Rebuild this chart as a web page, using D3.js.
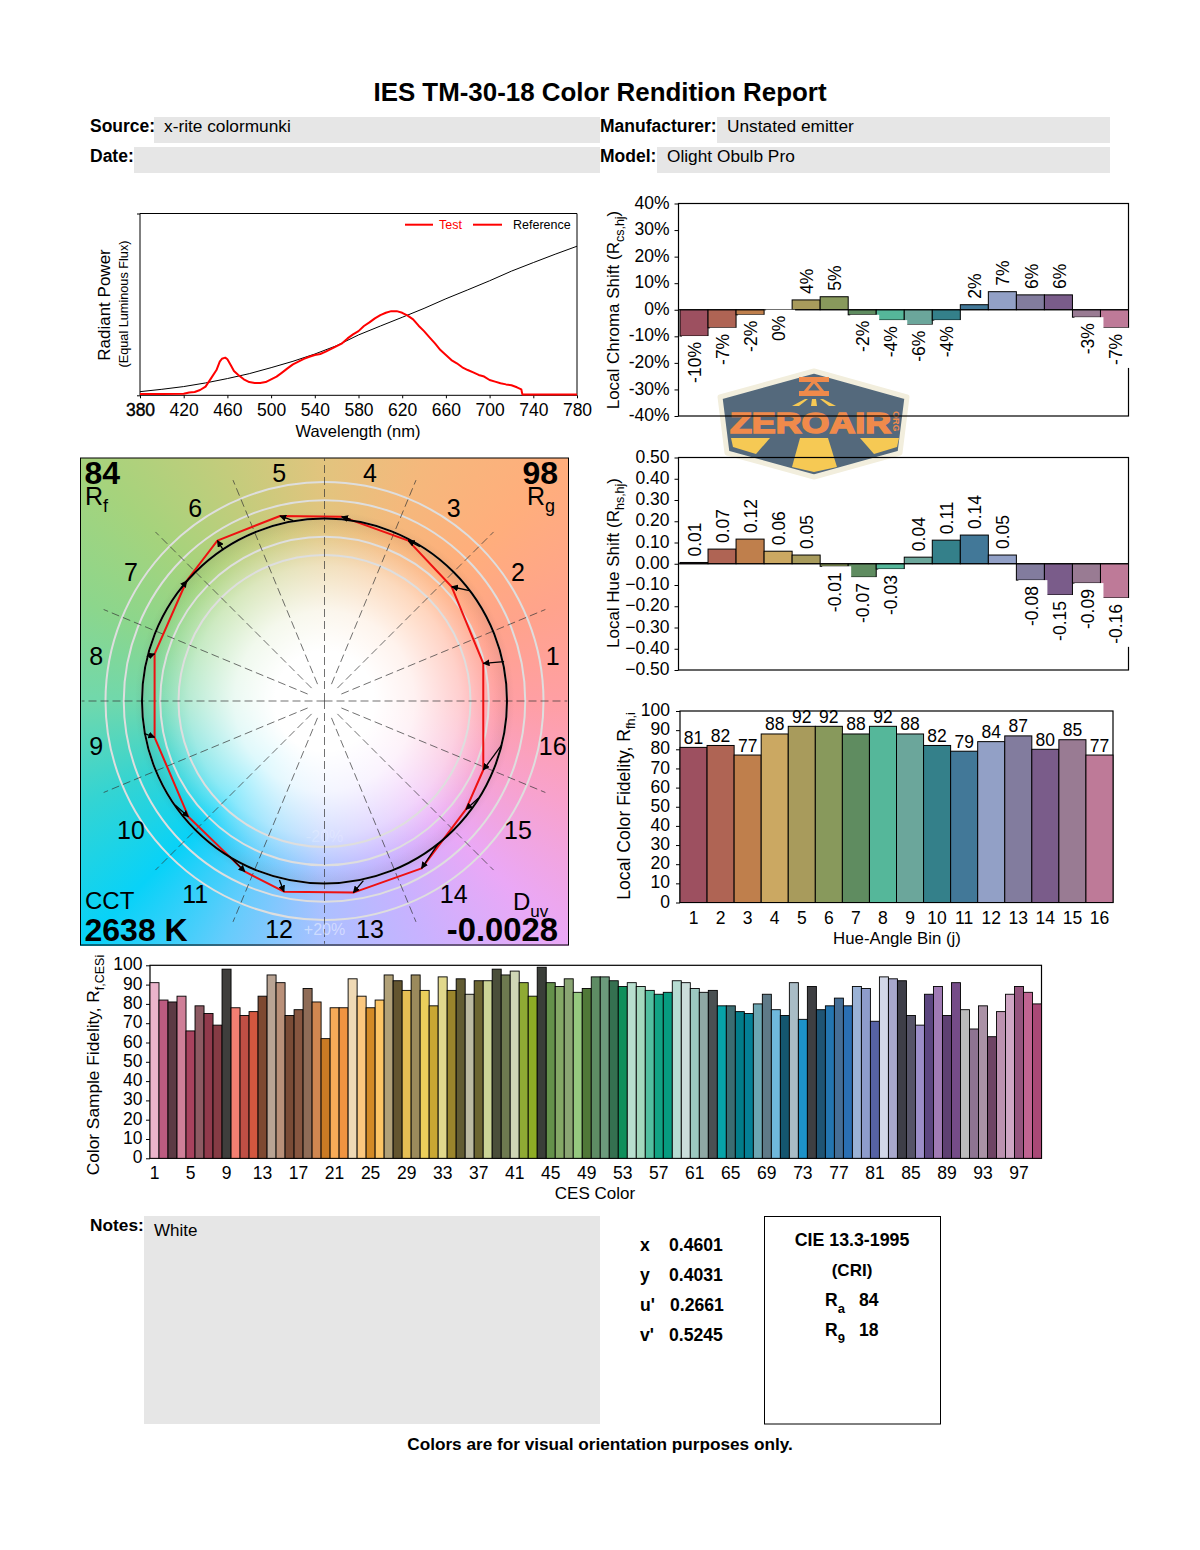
<!DOCTYPE html>
<html>
<head>
<meta charset="utf-8">
<script src="https://cdn.jsdelivr.net/npm/d3@7"></script>
<style>
  body { margin: 0; background: #fff; }
  #page { position: relative; width: 1200px; height: 1550px; overflow: hidden; }
  #wheel { position: absolute; left: 80px; top: 458px; width: 489px; height: 488px; }
  svg { position: absolute; left: 0; top: 0; font-family: "Liberation Sans", Arial, sans-serif; }
</style>
</head>
<body>
<div id="page"><div id="wheel"></div></div>
<script>
// Data

const binLabels = d3.range(1, 17)
const binColors = ['#9D5060', '#AF6454', '#BF7F4C', '#CBA862', '#A89B5C', '#88995C', '#5F8C60', '#55B79A',
  '#6BA69B', '#34808A', '#427898', '#92A0C6', '#827C9E', '#7A5C8A', '#997B93', '#BE7A98']

const chromaShift = [-9.9, -6.8, -1.9, 0, 3.7, 4.9, -1.9, -3.9, -5.6, -3.9, 1.9, 6.8, 5.6, 5.6, -2.8, -6.8]
const chromaLabels = ['-10%', '-7%', '-2%', '0%', '4%', '5%', '-2%', '-4%', '-6%', '-4%', '2%', '7%', '6%', '6%', '-3%', '-7%']
const chromaTicks = [-40, -30, -20, -10, 0, 10, 20, 30, 40]

const hueShift = [0.006, 0.069, 0.116, 0.059, 0.041, -0.012, -0.063, -0.025, 0.031, 0.111, 0.135, 0.041, -0.077, -0.147, -0.091, -0.161]
const hueLabels = ['0.01', '0.07', '0.12', '0.06', '0.05', '-0.01', '-0.07', '-0.03', '0.04', '0.11', '0.14', '0.05', '-0.08', '-0.15', '-0.09', '-0.16']
const hueTicks = [-0.5, -0.4, -0.3, -0.2, -0.1, 0, 0.1, 0.2, 0.3, 0.4, 0.5]

const binFidelity = [81, 82, 77, 88, 92, 92, 88, 92, 88, 82, 79, 84, 87, 80, 85, 77]

const cesFidelity = [91, 82, 81, 84, 66, 79, 75, 69, 98, 78, 74, 76, 84, 95, 91, 74, 77, 88, 81, 62,
  78, 78, 93, 84, 78, 82, 95, 92, 87, 95, 87, 79, 94, 87, 93, 85, 92, 92, 98, 95,
  97, 91, 84, 99, 91, 89, 93, 86, 88, 94, 94, 92, 89, 91, 89, 87, 85, 86, 92, 91,
  88, 86, 87, 79, 79, 76, 75, 80, 85, 77, 74, 91, 72, 89, 77, 79, 83, 79, 89, 88,
  71, 94, 93, 92, 74, 69, 85, 89, 74, 91, 77, 67, 79, 63, 76, 85, 89, 86, 80]
const cesColors = ['#EBB4CB', '#BC5B80', '#5C3A44', '#CF7F98', '#A8425E', '#8E5A63', '#913A4C', '#863B44', '#3F3E3C', '#F47F72',
  '#BF4F45', '#D3573F', '#7E4931', '#B9A494', '#B99079', '#7A4B36', '#875640', '#8F6C57', '#D08750', '#C97A24',
  '#F7AB58', '#F09441', '#EFD9B5', '#FBC77E', '#D38A25', '#FCC565', '#B1A178', '#63552F', '#E6BF54', '#9B8A5C',
  '#EBCF5B', '#C9A733', '#E1D88C', '#9A852C', '#625C33', '#BCBAA2', '#6C6531', '#CCD596', '#4A4E3A', '#6E7A50',
  '#CFD6B5', '#8FAA34', '#8EAD25', '#3A3E38', '#64914A', '#84A866', '#8AA573', '#95C97F', '#507838', '#5E8C64',
  '#6C9A7C', '#357050', '#0F8F5B', '#B8DFCF', '#A4D8BE', '#52BFA0', '#12A384', '#079C80', '#B6DCD2', '#CBDEDB',
  '#9CC8C0', '#8FA8A4', '#4A5052', '#07A3A8', '#3B6D72', '#027D8A', '#048096', '#6CA6B2', '#5F7A88', '#6FB8DC',
  '#14566F', '#A9BCC6', '#1D92C8', '#3E3F42', '#1F5474', '#2375B0', '#456E96', '#2A6FB3', '#9AB2D6', '#8E9CCB',
  '#5662A4', '#D2D7E8', '#A8A8CC', '#3E3E48', '#565468', '#9C8EC8', '#5C4680', '#A07AB4', '#5E4072', '#754C88',
  '#BBBBBB', '#8E7492', '#AA92A6', '#6E4464', '#BC92B0', '#CFA6C4', '#94547E', '#C06492', '#A94876']

const testWave = [380, 400, 420, 425, 430, 435, 440, 445, 450, 453, 455, 458, 460, 463, 466, 470, 475, 480, 485, 490,
  495, 500, 505, 510, 515, 520, 525, 530, 535, 540, 545, 550, 555, 560, 565, 570, 575, 580, 585, 590,
  595, 600, 605, 610, 615, 620, 625, 630, 635, 640, 645, 650, 655, 660, 665, 670, 675, 680, 685, 690,
  695, 700, 705, 710, 715, 720, 725, 729, 730, 780]
const testPower = [0.7, 0.7, 0.9, 1.5, 1.8, 2.9, 4.8, 9.3, 13.9, 18.5, 20.1, 20.7, 19.8, 16.7, 13.4, 11.2, 8.8, 7.3, 6.8, 6.8,
  7.3, 8.8, 10.3, 12.5, 14.8, 17, 18.5, 20, 21.2, 22.2, 22.7, 24, 25.5, 27.1, 28.6, 31.3, 33.5, 35.3, 38.1, 40.1,
  42.3, 44.1, 45.4, 46.3, 46.3, 45.4, 43.8, 41.8, 38.3, 35.3, 31.9, 28.6, 24.9, 22.2, 19.4, 17.6, 15.4, 13.9, 12.6, 11.2,
  10.3, 8.4, 7.5, 6.6, 6, 5.5, 4.4, 3.3, 0.5, 0.5]
const refWave = [380, 400, 420, 440, 460, 480, 500, 520, 540, 560, 580, 600, 620, 640, 660, 680, 700, 720, 740, 760, 780]
const refPower = [2, 3.3, 4.8, 6.8, 9.2, 11.9, 15.2, 18.7, 22.7, 27.3, 33.2, 38.1, 42.9, 47.8, 53.1, 58, 63, 68.3, 73, 77.6, 82]
const waveTicks = d3.range(380, 781, 40)

// color vector graphic, a' and b' normalized to the reference circle
const testA = [0.870, 0.697, 0.459, 0.094, -0.244, -0.587, -0.755, -0.931, -0.931, -0.746, -0.436, -0.222, 0.158, 0.532, 0.775, 0.870]
const testB = [0.206, 0.626, 0.879, 1.010, 1.014, 0.879, 0.659, 0.258, -0.199, -0.634, -0.935, -1.045, -1.050, -0.917, -0.594, -0.378]
const refA = [0.984, 0.794, 0.523, 0.143, -0.171, -0.554, -0.792, -0.974, -0.989, -0.819, -0.518, -0.247, 0.213, 0.624, 0.843, 0.971]
const refB = [0.216, 0.605, 0.846, 0.995, 0.988, 0.827, 0.608, 0.243, -0.177, -0.570, -0.853, -0.981, -0.984, -0.780, -0.533, -0.241]
const ringLevels = [0.8, 0.9, 1, 1.1, 1.2]
const wheelColors = ['#E2C47E', '#F5B87C', '#FFAE7C', '#FFA38C', '#FF9FA4', '#F8A2CC', '#EAA8F6', '#C8B2FF',
  '#ACC0FF', '#66CCFC', '#08D2F8', '#34D4D2', '#70D8AC', '#8CD68C', '#A6D37C', '#C4CC7C', '#E2C47E']

const FONT = 17.5
const svg = d3.select('#page').append('svg')
  .attr('width', 1200)
  .attr('height', 1550)

// text with subscripts, parts are [string, isSub]
function richText (g, x, y, parts, size, subSize, opts = {}) {
  const t = g.append('text')
    .attr('font-size', size)
    .attr('text-anchor', opts.anchor || 'start')
    .attr('font-weight', opts.weight || 'normal')
    .attr('fill', opts.fill || '#000')
  if (opts.rotate) {
    t.attr('transform', `translate(${x},${y}) rotate(${opts.rotate})`)
  } else {
    t.attr('x', x).attr('y', y)
  }
  const drop = opts.drop || size * 0.28
  let shifted = false
  parts.forEach(([s, isSub]) => {
    const span = t.append('tspan').text(s).attr('font-size', isSub ? subSize : size)
    if (isSub && !shifted) span.attr('dy', drop)
    if (!isSub && shifted) span.attr('dy', -drop)
    shifted = isSub
  })
  return t
}

function frame (g, x0, x1, y0, y1) {
  g.append('rect')
    .attr('x', x0).attr('y', y0)
    .attr('width', x1 - x0).attr('height', y1 - y0)
    .attr('fill', 'none')
    .attr('stroke', '#000')
    .attr('stroke-width', 1.2)
}

function styleAxis (sel, size) {
  sel.select('.domain').remove()
  sel.selectAll('.tick line').attr('stroke', '#000')
  sel.selectAll('.tick text').attr('font-size', size).attr('font-family', 'inherit').attr('fill', '#000')
}

// left axis labels sit a touch above their ticks
function nudgeLabels (sel) {
  sel.selectAll('.tick text').attr('dy', '.26em')
}

// logo goes first, the plot lines run over it
function drawLogo () {
  const g = svg.append('g')
  g.append('polygon')
    .attr('points', '814,371 907,397 900,453 814,477 727,453 720,397')
    .attr('fill', '#54697C')
    .attr('stroke', '#F2EEDD')
    .attr('stroke-width', 5)
    .attr('stroke-linejoin', 'round')
  const yellow = ['731,438 770,438 756,454 733,447', '800,438 828,438 837,467 814,472 792,467', '860,438 899,438 897,447 874,454',
    '792,406 805,399 808,399 799,406', '812,399 816,399 817,406 811,406', '836,406 823,399 820,399 829,406']
  yellow.forEach(p => g.append('polygon').attr('points', p).attr('fill', '#F6C954'))
  const orange = ['799,377 829,377 829,382 799,382', '799,391 829,391 829,396 799,396']
  orange.forEach(p => g.append('polygon').attr('points', p).attr('fill', '#F08A4B'))
  g.append('polygon')
    .attr('points', '814,381 823,392 805,392')
    .attr('fill', 'none')
    .attr('stroke', '#F08A4B')
    .attr('stroke-width', 3)
  g.append('text')
    .attr('x', 730).attr('y', 433)
    .attr('font-size', 30).attr('font-weight', 'bold')
    .attr('textLength', 161).attr('lengthAdjust', 'spacingAndGlyphs')
    .attr('fill', '#F08A4B').attr('stroke', '#F08A4B').attr('stroke-width', 1.6)
    .text('ZEROAIR')
  g.append('text')
    .attr('transform', 'translate(893,411) rotate(90)')
    .attr('font-size', 9).attr('font-weight', 'bold')
    .attr('fill', '#F08A4B')
    .text('ORG')
}

function drawHeader () {
  const g = svg.append('g')
  g.append('text')
    .attr('x', 600).attr('y', 101)
    .attr('text-anchor', 'middle')
    .attr('font-size', 25.9).attr('font-weight', 'bold')
    .text('IES TM-30-18 Color Rendition Report')
  const rows = [
    ['Source:', 90, 154, 600, 117, 'x-rite colormunki'],
    ['Date:', 90, 134, 600, 147, ''],
    ['Manufacturer:', 600, 717, 1110, 117, 'Unstated emitter'],
    ['Model:', 600, 657, 1110, 147, 'Olight Obulb Pro']
  ]
  rows.forEach(([label, lx, bx0, bx1, by, value]) => {
    g.append('rect').attr('x', bx0).attr('y', by).attr('width', bx1 - bx0).attr('height', 26).attr('fill', '#E6E6E6')
    g.append('text').attr('x', lx).attr('y', by + 15).attr('font-size', 17.5).attr('font-weight', 'bold').text(label)
    g.append('text').attr('x', bx0 + 10).attr('y', by + 15).attr('font-size', 17.3).text(value)
  })
}

function drawSpectrum () {
  const g = svg.append('g')
  const x = d3.scaleLinear().domain([380, 780]).range([140, 577])
  const y = d3.scaleLinear().domain([0, 100]).range([395.3, 213.5])
  g.append('path')
    .attr('d', `M${x(780)},${y(100)}H${x(380)}V${y(0)}H${x(780)}V${y(100)}`)
    .attr('fill', 'none').attr('stroke', '#000').attr('stroke-width', 1)
  g.append('g').attr('transform', `translate(0,${y(0)})`)
    .call(d3.axisBottom(x).tickValues(waveTicks).tickFormat(d3.format('d')).tickSize(3).tickPadding(5))
    .call(styleAxis, FONT)
    .call(sel => sel.select('.tick text').attr('stroke', '#000').attr('stroke-width', 0.4))
  g.append('g').attr('transform', `translate(${x(380)},0)`)
    .call(d3.axisLeft(y).tickValues([0, 100]).tickFormat('').tickSize(3))
    .call(styleAxis, FONT)

  const line = d3.line().x(d => x(d[0])).y(d => y(d[1]))
  g.append('path')
    .datum(refWave.map((w, i) => [w, refPower[i]]))
    .attr('fill', 'none').attr('stroke', '#000').attr('stroke-width', 1)
    .attr('d', line)
  g.append('path')
    .datum(testWave.map((w, i) => [w, testPower[i]]))
    .attr('fill', 'none').attr('stroke', '#F00').attr('stroke-width', 2)
    .attr('stroke-linejoin', 'round')
    .attr('d', line)

  // legend, both keys are red in the original
  const legend = [[405, 433, 439, 'Test', '#F00'], [473, 502, 513, 'Reference', '#000']]
  legend.forEach(([a, b, tx, label, color]) => {
    g.append('line').attr('x1', a).attr('x2', b).attr('y1', 224.7).attr('y2', 224.7).attr('stroke', '#F00').attr('stroke-width', 2)
    g.append('text').attr('x', tx).attr('y', 229).attr('font-size', 12.5).attr('fill', color).text(label)
  })

  g.append('text')
    .attr('x', 358).attr('y', 437)
    .attr('text-anchor', 'middle').attr('font-size', 16.5)
    .text('Wavelength (nm)')
  g.append('text')
    .attr('transform', 'translate(110,305) rotate(-90)')
    .attr('text-anchor', 'middle').attr('font-size', 17)
    .text('Radiant Power')
  g.append('text')
    .attr('transform', 'translate(128,304) rotate(-90)')
    .attr('text-anchor', 'middle').attr('font-size', 12.7)
    .text('(Equal Luminous Flux)')
}

function drawWheel () {
  // background colours, white toward the middle
  const stops = wheelColors.map((c, i) => `${c} ${i * 22.5}deg`).join(',')
  const cx = 244.5
  const cy = 243
  d3.select('#wheel').style('background',
    `radial-gradient(circle at ${cx}px ${cy}px, #fff 0, #fff 50px, rgba(255,255,255,.86) 90px, rgba(255,255,255,.5) 135px, ` +
    `rgba(255,255,255,.04) 170px, rgba(70,60,60,.07) 181px, rgba(70,60,60,0) 190px), conic-gradient(${stops})`)

  const g = svg.append('g')
  const x = d3.scaleLinear().domain([-1.337, 1.337]).range([80.5, 568.5])
  const y = d3.scaleLinear().domain([-1.337, 1.337]).range([945, 457])
  const unit = x(1) - x(0)

  g.append('rect')
    .attr('x', 80.5).attr('y', 458)
    .attr('width', 488).attr('height', 487)
    .attr('fill', 'none').attr('stroke', '#000').attr('stroke-width', 1)

  g.selectAll('.ring').data(ringLevels).join('circle')
    .attr('class', 'ring')
    .attr('cx', x(0)).attr('cy', y(0))
    .attr('r', d => d * unit)
    .attr('fill', 'none').attr('stroke', '#DEDEDE').attr('stroke-width', 2)

  // bin edges
  d3.range(16).forEach(i => {
    const a = i * Math.PI / 8
    const axis = i % 4 === 0
    const r0 = axis ? 0 : 0.1
    const r1 = axis ? 1.33 : 1.31
    g.append('line')
      .attr('x1', x(r0 * Math.cos(a))).attr('y1', y(r0 * Math.sin(a)))
      .attr('x2', x(r1 * Math.cos(a))).attr('y2', y(r1 * Math.sin(a)))
      .attr('stroke', '#333').attr('stroke-width', 0.7)
      .attr('stroke-dasharray', '8 4')
  })

  binLabels.forEach(b => {
    const a = (b - 0.5) * Math.PI / 8
    g.append('text')
      .attr('x', x(1.275 * Math.cos(a))).attr('y', y(1.275 * Math.sin(a)))
      .attr('dy', '.36em').attr('text-anchor', 'middle')
      .attr('font-size', 25)
      .text(b)
  })

  g.append('text').attr('x', x(0)).attr('y', 935).attr('text-anchor', 'middle')
    .attr('font-size', 16).attr('fill', '#fff').attr('fill-opacity', 0.45).text('+20%')
  g.append('text').attr('x', x(0)).attr('y', 842).attr('text-anchor', 'middle')
    .attr('font-size', 16).attr('fill', '#fff').attr('fill-opacity', 0.2).text('-20%')

  const polygon = d3.line().x(d => x(d[0])).y(d => y(d[1])).curve(d3.curveLinearClosed)
  g.append('path')
    .datum(testA.map((a, i) => [a, testB[i]]))
    .attr('d', polygon)
    .attr('fill', 'none').attr('stroke', '#EE1111').attr('stroke-width', 2)
    .attr('stroke-linejoin', 'round')
  g.append('circle')
    .attr('cx', x(0)).attr('cy', y(0)).attr('r', unit)
    .attr('fill', 'none').attr('stroke', '#000').attr('stroke-width', 2)

  svg.append('defs').append('marker')
    .attr('id', 'head')
    .attr('viewBox', '0 0 10 10')
    .attr('refX', 9).attr('refY', 5)
    .attr('markerWidth', 7).attr('markerHeight', 7)
    .attr('markerUnits', 'userSpaceOnUse')
    .attr('orient', 'auto')
    .append('path').attr('d', 'M0,0L10,5L0,10Z').attr('fill', '#000')

  g.selectAll('.arrow').data(binLabels).join('line')
    .attr('class', 'arrow')
    .attr('x1', (d, i) => x(refA[i])).attr('y1', (d, i) => y(refB[i]))
    .attr('x2', (d, i) => x(testA[i])).attr('y2', (d, i) => y(testB[i]))
    .attr('stroke', '#000').attr('stroke-width', 1.3)
    .attr('marker-end', 'url(#head)')

  // corner values
  g.append('text').attr('x', 84.5).attr('y', 484).attr('font-size', 32).attr('font-weight', 'bold').text('84')
  richText(g, 85, 505, [['R', false], ['f', true]], 25, 18)
  g.append('text').attr('x', 558).attr('y', 484).attr('text-anchor', 'end').attr('font-size', 32).attr('font-weight', 'bold').text('98')
  richText(g, 527, 505, [['R', false], ['g', true]], 25, 18)
  g.append('text').attr('x', 85).attr('y', 909).attr('font-size', 24).text('CCT')
  g.append('text').attr('x', 84.5).attr('y', 941).attr('font-size', 32).attr('font-weight', 'bold').text('2638 K')
  richText(g, 513, 910, [['D', false], ['uv', true]], 24, 17)
  g.append('text').attr('x', 558).attr('y', 941).attr('text-anchor', 'end').attr('font-size', 32.8).attr('font-weight', 'bold').text('-0.0028')
}

// the two shift charts only differ in scale and labels
function drawShift (values, labels, ticks, fmt, domain, y0, y1, title, titleY) {
  const g = svg.append('g')
  const x = d3.scaleBand().domain(binLabels).range([680, 1128.5])
  const y = d3.scaleLinear().domain(domain).range([y1, y0])

  frame(g, 678.5, 1128.5, y0, y1)
  g.append('g').attr('transform', 'translate(678.5,0)')
    .call(d3.axisLeft(y).tickValues(ticks).tickFormat(fmt).tickSize(4).tickPadding(5))
    .call(styleAxis, FONT)
    .call(nudgeLabels)

  g.selectAll('.bar').data(values).join('rect')
    .attr('class', 'bar')
    .attr('x', (d, i) => x(binLabels[i]))
    .attr('y', d => y(Math.max(d, 0)))
    .attr('width', x.bandwidth())
    .attr('height', d => Math.abs(y(d) - y(0)))
    .attr('fill', (d, i) => binColors[i])
    .attr('stroke', '#000').attr('stroke-width', 1)
    .attr('opacity', d => d === 0 ? 0 : 1)
  g.append('line').attr('x1', 678.5).attr('x2', 1128.5).attr('y1', y(0)).attr('y2', y(0)).attr('stroke', '#000')

  const tags = g.selectAll('.tag').data(values).join('g')
    .attr('class', 'tag')
    .attr('transform', (d, i) => `translate(${x(binLabels[i]) + x.bandwidth() / 2 + 1},${d > 0 ? y(d) - 6 : y(d) + 6})`)
  // white patch behind the label, it breaks the frame on the last bin
  const patches = tags.filter(d => d <= 0).append('rect')
    .attr('x', -13).attr('y', -6).attr('width', 29)
    .attr('fill', '#fff')
  tags.append('text')
    .attr('transform', 'rotate(-90)')
    .attr('dy', '.35em')
    .attr('text-anchor', d => d > 0 ? 'start' : 'end')
    .attr('font-size', FONT)
    .text((d, i) => labels[i])
  patches.attr('height', function () {
    return this.parentNode.querySelector('text').getBBox().width + 9
  })

  richText(g, 619, titleY, title, 17, 12.5, { anchor: 'middle', rotate: -90 })
}

function drawBinFidelity () {
  const g = svg.append('g')
  const x = d3.scaleBand().domain(binLabels).range([680, 1113])
  const y = d3.scaleLinear().domain([0, 100]).range([902.5, 711])

  frame(g, 680, 1113, 711, 902.5)
  g.append('g').attr('transform', 'translate(680,0)')
    .call(d3.axisLeft(y).tickValues(d3.range(0, 101, 10)).tickSize(4).tickPadding(6))
    .call(styleAxis, FONT)
    .call(nudgeLabels)
  g.append('g').attr('transform', 'translate(0,902.5)')
    .call(d3.axisBottom(x).tickSize(0).tickPadding(9))
    .call(styleAxis, FONT)

  g.selectAll('.bar').data(binFidelity).join('rect')
    .attr('class', 'bar')
    .attr('x', (d, i) => x(binLabels[i]))
    .attr('y', d => y(d))
    .attr('width', x.bandwidth())
    .attr('height', d => y(0) - y(d))
    .attr('fill', (d, i) => binColors[i])
    .attr('stroke', '#000').attr('stroke-width', 1)
  g.selectAll('.val').data(binFidelity).join('text')
    .attr('class', 'val')
    .attr('x', (d, i) => x(binLabels[i]) + x.bandwidth() / 2)
    .attr('y', d => y(d) - 3.5)
    .attr('text-anchor', 'middle')
    .attr('font-size', FONT)
    .text(d => d)

  g.append('text')
    .attr('x', 897).attr('y', 944)
    .attr('text-anchor', 'middle').attr('font-size', 16.8)
    .text('Hue-Angle Bin (j)')
  richText(g, 630, 806, [['Local Color Fidelity, R', false], ['fh,i', true]], 17.6, 12.5, { anchor: 'middle', rotate: -90 })
}

function drawCes () {
  const g = svg.append('g')
  const ids = d3.range(1, 100)
  const x = d3.scaleBand().domain(ids).range([150, 1041.5])
  const y = d3.scaleLinear().domain([0, 100]).range([1158.3, 965.3])

  frame(g, 150, 1041.5, 965.3, 1158.3)
  g.append('g').attr('transform', 'translate(150,0)')
    .call(d3.axisLeft(y).tickValues(d3.range(0, 101, 10)).tickSize(4).tickPadding(3.5))
    .call(styleAxis, FONT)
    .call(nudgeLabels)
  g.append('g').attr('transform', 'translate(0,1158.3)')
    .call(d3.axisBottom(x).tickValues(ids.filter(d => d % 4 === 1)).tickSize(0).tickPadding(8))
    .call(styleAxis, FONT)

  g.selectAll('.bar').data(cesFidelity).join('rect')
    .attr('class', 'bar')
    .attr('x', (d, i) => x(ids[i]))
    .attr('y', d => y(d))
    .attr('width', x.bandwidth())
    .attr('height', d => y(0) - y(d))
    .attr('fill', (d, i) => cesColors[i])
    .attr('stroke', '#000').attr('stroke-width', 0.9)

  g.append('text')
    .attr('x', 595).attr('y', 1199)
    .attr('text-anchor', 'middle').attr('font-size', 17)
    .text('CES Color')
  richText(g, 99, 1065, [['Color Sample Fidelity, R', false], ['f,CESi', true]], 17.3, 12.5, { anchor: 'middle', rotate: -90 })
}

function drawFooter () {
  const g = svg.append('g')
  g.append('text').attr('x', 90).attr('y', 1231).attr('font-size', 17.3).attr('font-weight', 'bold').text('Notes:')
  g.append('rect').attr('x', 144).attr('y', 1216).attr('width', 456).attr('height', 208).attr('fill', '#E6E6E6')
  g.append('text').attr('x', 154).attr('y', 1236).attr('font-size', 17).text('White')

  const coords = [['x', '0.4601', 1251, 669], ['y', '0.4031', 1281, 669], ["u'", '0.2661', 1311, 670], ["v'", '0.5245', 1341, 669]]
  coords.forEach(([k, v, by, vx]) => {
    g.append('text').attr('x', 640).attr('y', by).attr('font-size', 17.6).attr('font-weight', 'bold').text(k)
    g.append('text').attr('x', vx).attr('y', by).attr('font-size', 17.6).attr('font-weight', 'bold').text(v)
  })

  g.append('rect').attr('x', 764.5).attr('y', 1216.5).attr('width', 176).attr('height', 207.5)
    .attr('fill', 'none').attr('stroke', '#000').attr('stroke-width', 1)
  g.append('text').attr('x', 852).attr('y', 1246).attr('text-anchor', 'middle').attr('font-size', 17.8).attr('font-weight', 'bold').text('CIE 13.3-1995')
  g.append('text').attr('x', 852).attr('y', 1276).attr('text-anchor', 'middle').attr('font-size', 17).attr('font-weight', 'bold').text('(CRI)')
  richText(g, 825, 1306, [['R', false], ['a', true]], 17.5, 13, { weight: 'bold', drop: 6.5 })
  g.append('text').attr('x', 859).attr('y', 1306).attr('font-size', 17.6).attr('font-weight', 'bold').text('84')
  richText(g, 825, 1336, [['R', false], ['9', true]], 17.5, 13, { weight: 'bold', drop: 6.5 })
  g.append('text').attr('x', 859).attr('y', 1336).attr('font-size', 17.6).attr('font-weight', 'bold').text('18')

  g.append('text').attr('x', 600).attr('y', 1450).attr('text-anchor', 'middle').attr('font-size', 17.2).attr('font-weight', 'bold')
    .text('Colors are for visual orientation purposes only.')
}

drawLogo()
drawHeader()
drawSpectrum()
drawWheel()
drawShift(chromaShift, chromaLabels, chromaTicks, d => d + '%', [-40, 40], 203.5, 416,
  [['Local Chroma Shift (R', false], ['cs,hj', true], [')', false]], 310)
drawShift(hueShift, hueLabels, hueTicks, d3.format('.2f'), [-0.5, 0.5], 457.5, 670,
  [['Local Hue Shift (R', false], ['hs,hj', true], [')', false]], 563)
drawBinFidelity()
drawCes()
drawFooter()
</script>
</body>
</html>
